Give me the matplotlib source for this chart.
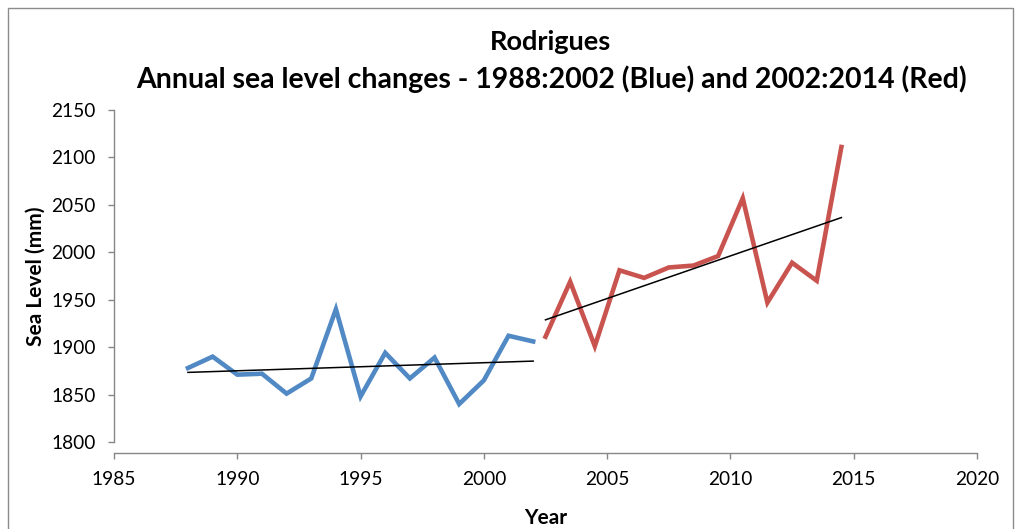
import numpy as np
import matplotlib
matplotlib.use("Agg")
import matplotlib.pyplot as plt
from matplotlib.patches import Rectangle

plt.rcParams['font.family'] = ['Lato', 'DejaVu Sans']

# --- data ---
years_blue = [1988, 1989, 1990, 1991, 1992, 1993, 1994, 1995,
              1996, 1997, 1998, 1999, 2000, 2001, 2002]
level_blue = [1878, 1890, 1871, 1872, 1851, 1867, 1940, 1848,
              1894, 1867, 1889, 1840, 1865, 1912, 1906]

years_red = [2002.5, 2003.5, 2004.5, 2005.5, 2006.5, 2007.5, 2008.5,
             2009.5, 2010.5, 2011.5, 2012.5, 2013.5, 2014.5]
level_red = [1911, 1969, 1901, 1981, 1973, 1984, 1986,
             1996, 2057, 1947, 1989, 1970, 2111]

x_ticks = [1985, 1990, 1995, 2000, 2005, 2010, 2015, 2020]
y_ticks = [1800, 1850, 1900, 1950, 2000, 2050, 2100, 2150]

BLUE = '#5189C4'
RED = '#C9544F'
GREY = '#878787'

fig = plt.figure(figsize=(10.29, 5.29), dpi=100)
ax = fig.add_axes([114 / 1029, 1 - 442 / 529, 863 / 1029, 332 / 529])

# outer chart-area border
fig.patches.append(Rectangle((8 / 1029, -0.05), 1005 / 1029, 1.05 - 8 / 529,
                             transform=fig.transFigure, fill=False,
                             edgecolor='#8c8c8c', linewidth=1.0))

ax.plot(years_blue, level_blue, color=BLUE, lw=3.3, solid_joinstyle='miter')
ax.plot(years_red, level_red, color=RED, lw=3.3, solid_joinstyle='miter')

# linear trendlines
for xs, ys in [(years_blue, level_blue), (years_red, level_red)]:
    xs = np.array(xs, dtype=float)
    k, b = np.polyfit(xs, ys, 1)
    ax.plot([xs[0], xs[-1]], [k * xs[0] + b, k * xs[-1] + b],
            color='black', lw=1.1)

ax.set_xlim(1985, 2020)
ax.set_ylim(1800, 2150)
ax.set_xticks(x_ticks)
ax.set_yticks(y_ticks)

for s in ['top', 'right']:
    ax.spines[s].set_visible(False)
for s in ['left', 'bottom']:
    ax.spines[s].set_color(GREY)
    ax.spines[s].set_linewidth(1.0)
ax.spines['bottom'].set_position(('outward', 8))

ax.tick_params(axis='both', direction='out', length=4, width=1.0,
               color=GREY, labelsize=13.8, labelcolor='black')
ax.tick_params(axis='x', pad=9)
ax.tick_params(axis='y', pad=9)

ax.set_xlabel('Year', fontsize=15, fontweight='bold', labelpad=14)
ax.set_ylabel('Sea Level (mm)', fontsize=15, fontweight='bold', labelpad=4)

fig.text(551 / 1029, 1 - 42 / 529, 'Rodrigues', ha='center', va='center',
         fontsize=19.5, fontweight='bold')
fig.text(551 / 1029, 1 - 79 / 529,
         'Annual sea level changes - 1988:2002 (Blue) and 2002:2014 (Red)',
         ha='center', va='center', fontsize=20.5, fontweight='bold')

fig.savefig('out.png', dpi=100, facecolor='white')
